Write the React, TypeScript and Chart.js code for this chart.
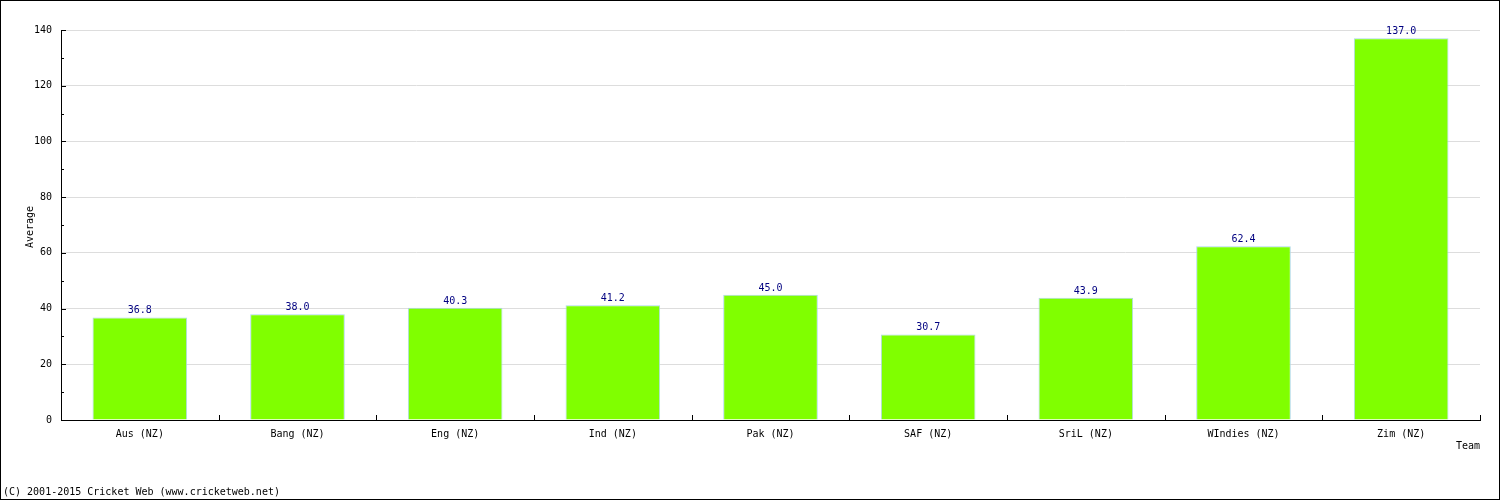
import React, { useEffect, useRef } from "react";
import { Chart, registerables } from "chart.js";

Chart.register(...registerables);

const categories = ["Aus (NZ)", "Bang (NZ)", "Eng (NZ)", "Ind (NZ)", "Pak (NZ)", "SAF (NZ)", "SriL (NZ)", "WIndies (NZ)", "Zim (NZ)"];
const averages = [36.8, 38.0, 40.3, 41.2, 45.0, 30.7, 43.9, 62.4, 137.0];
const yTicks = [0, 20, 40, 60, 80, 100, 120, 140];
const yTitle = "Average";
const xTitle = "Team";
const footer = "(C) 2001-2015 Cricket Web (www.cricketweb.net)";

const FONT = "'DejaVu Sans Mono', monospace";

const overlay = {
  id: "overlay",
  afterDatasetsDraw(chart: any) {
    const ctx = chart.ctx;
    const area = chart.chartArea;
    const ys = chart.scales.y;
    const xs = chart.scales.x;
    ctx.save();
    ctx.strokeStyle = "#000";
    ctx.lineWidth = 1;
    // y ticks inside (major and minor)
    for (let v = 0; v <= 140; v += 10) {
      const py = Math.round(ys.getPixelForValue(v)) + 0.5;
      const len = v % 20 === 0 ? 5 : 3;
      ctx.beginPath();
      ctx.moveTo(area.left, py);
      ctx.lineTo(area.left + len, py);
      ctx.stroke();
    }
    // x ticks at category boundaries
    const n = categories.length;
    const w = (area.right - area.left) / n;
    for (let i = 1; i <= n; i++) {
      const px = Math.round(area.left + w * i) + 0.5;
      ctx.beginPath();
      ctx.moveTo(px, area.bottom);
      ctx.lineTo(px, area.bottom - 5);
      ctx.stroke();
    }
    // value labels
    ctx.font = `10px ${FONT}`;
    ctx.fillStyle = "#000080";
    ctx.textAlign = "center";
    ctx.textBaseline = "alphabetic";
    const meta = chart.getDatasetMeta(0);
    meta.data.forEach((bar: any, i: number) => {
      ctx.fillText(averages[i].toFixed(1), bar.x, bar.y - 4);
    });
    // titles
    ctx.fillStyle = "#000";
    ctx.textAlign = "right";
    ctx.textBaseline = "middle";
    ctx.fillText(xTitle, 1480, 446);
    ctx.save();
    ctx.translate(30, 227);
    ctx.rotate(-Math.PI / 2);
    ctx.textAlign = "center";
    ctx.fillText(yTitle, 0, 0);
    ctx.restore();
    ctx.textAlign = "left";
    ctx.fillText(footer, 3, 492);
    // outer border
    ctx.strokeStyle = "#000";
    ctx.strokeRect(0.5, 0.5, chart.width - 1, chart.height - 1);
    ctx.restore();
  },
};

export default function App() {
  const ref = useRef<HTMLCanvasElement>(null);
  useEffect(() => {
    if (!ref.current) return;
    const chart = new Chart(ref.current, {
      type: "bar",
      data: {
        labels: categories,
        datasets: [
          {
            data: averages,
            backgroundColor: "#80ff00",
            borderColor: "#add8e6",
            borderWidth: 1,
            barPercentage: 0.6,
            categoryPercentage: 1,
          },
        ],
      },
      options: {
        animation: false,
        responsive: false,
        maintainAspectRatio: false,
        layout: { padding: { left: 0, right: 20, top: 30, bottom: 0 } },
        plugins: { legend: { display: false }, tooltip: { enabled: false } },
        scales: {
          x: {
            grid: { display: false, drawTicks: false },
            border: { display: true, color: "#000", width: 1 },
            ticks: { font: { family: FONT, size: 10 }, color: "#000", padding: 8, maxRotation: 0, autoSkip: false },
            afterFit: (s: any) => { s.height = 80; },
          },
          y: {
            min: 0,
            max: 140,
            afterBuildTicks: (s: any) => { s.ticks = yTicks.map((v) => ({ value: v })); },
            grid: { color: "#dddddd", drawTicks: false },
            border: { display: true, color: "#000", width: 1 },
            ticks: { font: { family: FONT, size: 10 }, color: "#000", padding: 9 },
            afterFit: (s: any) => { s.width = 61; },
          },
        },
      },
      plugins: [overlay],
    });
    return () => chart.destroy();
  }, []);
  return (
    <div style={{ position: "absolute", left: 0, top: 0, width: 1500, height: 500, background: "#fff" }}>
      <canvas ref={ref} width={1500} height={500} style={{ display: "block" }} />
    </div>
  );
}
